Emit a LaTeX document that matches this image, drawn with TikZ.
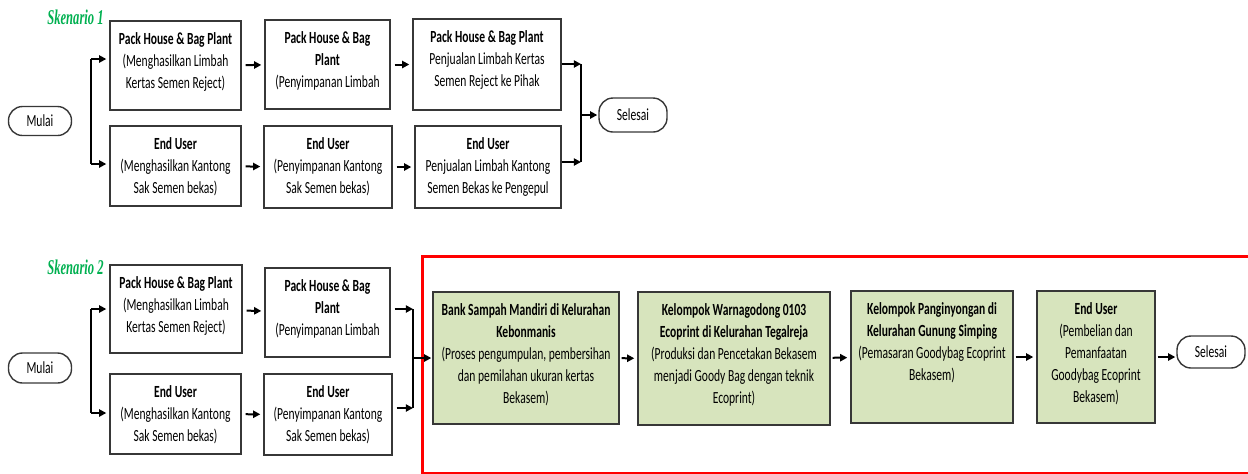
\documentclass[tikz,border=0pt]{standalone}
\usepackage{fontspec}
\setmainfont{Carlito}[FakeStretch=0.68]
\newfontfamily\skenariofont{Liberation Serif}[FakeStretch=0.6]
\usetikzlibrary{arrows.meta}
\definecolor{hijaumuda}{RGB}{215,228,189}
\definecolor{hijautua}{RGB}{0,176,80}
\definecolor{garis}{RGB}{55,55,55}

\tikzset{
  kotak/.style={draw=garis, line width=0.7pt, inner sep=0pt},
  kotakhijau/.style={kotak, fill=hijaumuda},
  isi/.style={anchor=north, align=center, inner sep=0pt, yshift=-6pt,
    font=\fontsize{8.5}{11}\selectfont},
  terminal/.style={draw=garis, line width=0.7pt, rounded corners=7pt, inner sep=0pt,
    font=\fontsize{8.5}{11}\selectfont},
  panah/.style={line width=1pt, -{Triangle[length=3.6pt,width=3.6pt]}, shorten >=1.5pt},
  cabang/.style={line width=1pt},
  skenario/.style={text=hijautua, inner sep=0pt,
    font=\skenariofont\bfseries\itshape\fontsize{10.5}{12}\selectfont},
  bingkai/.style={draw=red, line width=1.5pt}
}

\begin{document}
\begin{tikzpicture}[x=0.5pt, y=-0.5pt]
\useasboundingbox (0,0) rectangle (1248,473);

% skenario 1
\node[skenario] (sk1) at (75.5,17) {Skenario 1};
\node[terminal, minimum width=31.5pt, minimum height=14.5pt] (mulai1) at (40,121) {Mulai};

\node[kotak, minimum width=65.5pt, minimum height=44.5pt] (a1) at (175.5,65.5) {};
\node[isi] (a1t) at (a1.north) {\textbf{Pack House \& Bag Plant}\\(Menghasilkan Limbah\\Kertas Semen Reject)};
\node[kotak, minimum width=62.5pt, minimum height=44.5pt] (a2) at (327.5,64.5) {};
\node[isi] (a2t) at (a2.north) {\textbf{Pack House \& Bag}\\\textbf{Plant}\\(Penyimpanan Limbah};
\node[kotak, minimum width=74pt, minimum height=45.5pt] (a3) at (487,64.5) {};
\node[isi] (a3t) at (a3.north) {\textbf{Pack House \& Bag Plant}\\Penjualan Limbah Kertas\\Semen Reject ke Pihak};

\node[kotak, minimum width=65.5pt, minimum height=40pt] (b1) at (175.5,166) {};
\node[isi] (b1t) at (b1.north) {\textbf{End User}\\(Menghasilkan Kantong\\Sak Semen bekas)};
\node[kotak, minimum width=64pt, minimum height=41pt] (b2) at (328,167) {};
\node[isi] (b2t) at (b2.north) {\textbf{End User}\\(Penyimpanan Kantong\\Sak Semen bekas)};
\node[kotak, minimum width=73pt, minimum height=41pt] (b3) at (488,167) {};
\node[isi] (b3t) at (b3.north) {\textbf{End User}\\Penjualan Limbah Kantong\\Semen Bekas ke Pengepul};

\node[terminal, minimum width=34pt, minimum height=17pt] (selesai1) at (633,115) {Selesai};

\coordinate (cab1a) at (91,59);
\coordinate (cab1b) at (91,164);
\coordinate (gab1a) at (581,64);
\coordinate (gab1b) at (581,162);
\draw[cabang] (cab1a) -- (cab1b);
\draw[panah] (cab1a) -- (cab1a -| a1.west);
\draw[panah] (cab1b) -- (cab1b -| b1.west);
\draw[panah, shorten <=2pt] (a1) -- (a2);
\draw[panah, shorten <=2pt] (a2) -- (a3);
\draw[panah, shorten <=2pt] (b1) -- (b2);
\draw[panah, shorten <=2pt] (b2) -- (b3);
\draw[cabang] (gab1a) -- (gab1b);
\draw[panah, shorten >=0pt] (a3.east |- gab1a) -- (gab1a);
\draw[panah, shorten >=0pt] (b3.east |- gab1b) -- (gab1b);
\draw[panah, shorten >=0.5pt] (gab1a |- selesai1) -- (selesai1);

% skenario 2
\node[skenario] (sk2) at (75.5,267) {Skenario 2};
\node[terminal, minimum width=31.5pt, minimum height=15pt] (mulai2) at (40,368) {Mulai};

\node[kotak, minimum width=66pt, minimum height=44pt] (c1) at (176,309) {};
\node[isi] (c1t) at (c1.north) {\textbf{Pack House \& Bag Plant}\\(Menghasilkan Limbah\\Kertas Semen Reject)};
\node[kotak, minimum width=62.5pt, minimum height=44.5pt] (c2) at (327.5,312.5) {};
\node[isi] (c2t) at (c2.north) {\textbf{Pack House \& Bag}\\\textbf{Plant}\\(Penyimpanan Limbah};
\node[kotak, minimum width=65.5pt, minimum height=40pt] (d1) at (175.5,414) {};
\node[isi] (d1t) at (d1.north) {\textbf{End User}\\(Menghasilkan Kantong\\Sak Semen bekas)};
\node[kotak, minimum width=64pt, minimum height=40.5pt] (d2) at (328,414.5) {};
\node[isi] (d2t) at (d2.north) {\textbf{End User}\\(Penyimpanan Kantong\\Sak Semen bekas)};

\draw[bingkai] (422,256) rectangle (1270,473.5);

\node[kotakhijau, minimum width=93pt, minimum height=66pt] (e1) at (526,358) {};
\node[isi] (e1t) at (e1.north) {\textbf{Bank Sampah Mandiri di Kelurahan}\\\textbf{Kebonmanis}\\(Proses pengumpulan, pembersihan\\dan pemilahan ukuran kertas\\Bekasem)};
\node[kotakhijau, minimum width=96pt, minimum height=66.5pt] (e2) at (734,358.5) {};
\node[isi] (e2t) at (e2.north) {\textbf{Kelompok Warnagodong 0103}\\\textbf{Ecoprint di Kelurahan Tegalreja}\\(Produksi dan Pencetakan Bekasem\\menjadi Goody Bag dengan teknik\\Ecoprint)};
\node[kotakhijau, minimum width=81pt, minimum height=66pt] (e3) at (932,357) {};
\node[isi] (e3t) at (e3.north) {\textbf{Kelompok Panginyongan di}\\\textbf{Kelurahan Gunung Simping}\\(Pemasaran Goodybag Ecoprint\\Bekasem)};
\node[kotakhijau, minimum width=59pt, minimum height=66pt] (e4) at (1096,357) {};
\node[isi] (e4t) at (e4.north) {\textbf{End User}\\(Pembelian dan\\Pemanfaatan\\Goodybag Ecoprint\\Bekasem)};

\node[terminal, minimum width=34pt, minimum height=16pt] (selesai2) at (1211,352) {Selesai};

\coordinate (cab2a) at (91,309);
\coordinate (cab2b) at (91,413);
\coordinate (gab2a) at (413,309);
\coordinate (gab2b) at (413,408);
\draw[cabang] (cab2a) -- (cab2b);
\draw[panah] (cab2a) -- (cab2a -| c1.west);
\draw[panah] (cab2b) -- (cab2b -| d1.west);
\draw[panah, shorten <=2pt] (c1) -- (c2);
\draw[panah, shorten <=2pt] (d1) -- (d2);
\draw[cabang] (gab2a) -- (gab2b);
\draw[panah, shorten <=2pt, shorten >=0pt] (c2.east |- gab2a) -- (gab2a);
\draw[panah, shorten <=2pt, shorten >=0pt] (d2.east |- gab2b) -- (gab2b);
\draw[panah, shorten >=0.5pt] (gab2a |- e1) -- (e1);
\draw[panah, shorten <=1pt] (e1) -- (e2);
\draw[panah, shorten <=1pt] (e2) -- (e3);
\draw[panah, shorten <=1pt] (e3) -- (e4);
\draw[panah, shorten <=1pt, shorten >=0.5pt] (e4.east) -- (e4.east -| selesai2.west);
\end{tikzpicture}
\end{document}
